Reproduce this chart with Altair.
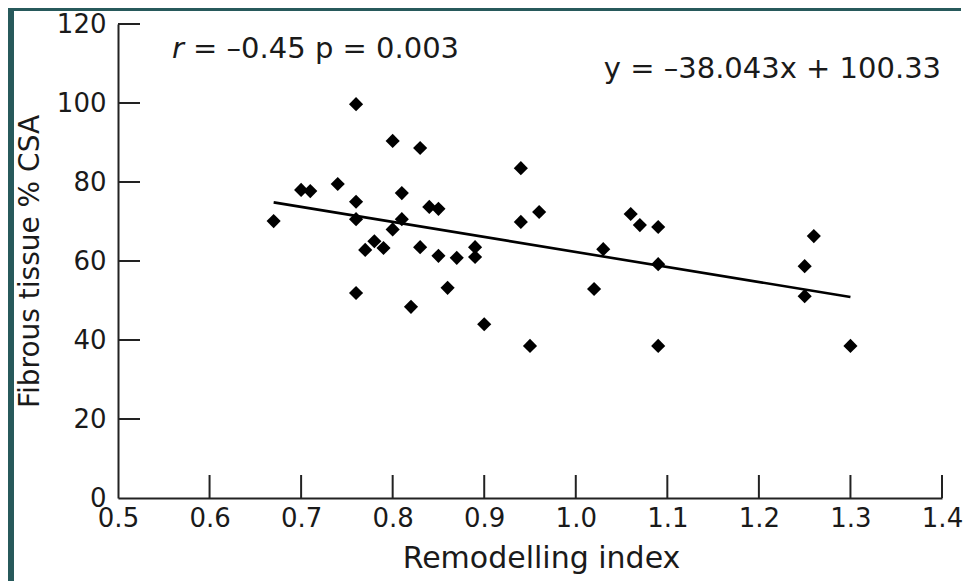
import altair as alt
import pandas as pd

# ---- data ----
remodelling_index = [0.67, 0.70, 0.71, 0.74, 0.76, 0.76, 0.76, 0.76, 0.77, 0.78,
                     0.79, 0.80, 0.80, 0.81, 0.81, 0.82, 0.83, 0.83, 0.84, 0.85,
                     0.85, 0.86, 0.87, 0.89, 0.89, 0.90, 0.94, 0.94, 0.95, 0.96,
                     1.02, 1.03, 1.06, 1.07, 1.09, 1.09, 1.09, 1.25, 1.25, 1.26,
                     1.30]
fibrous_pct = [70.1, 78.0, 77.7, 79.5, 99.7, 75.0, 70.6, 51.9, 62.8, 65.0,
               63.3, 90.4, 68.0, 77.2, 70.6, 48.4, 88.6, 63.5, 73.7, 73.2,
               61.3, 53.2, 60.8, 63.5, 61.0, 44.0, 83.5, 69.9, 38.5, 72.4,
               52.9, 63.0, 71.9, 69.1, 68.6, 59.2, 38.5, 58.7, 51.1, 66.3,
               38.5]

fit_x = [0.67, 1.30]
fit_y = [74.84, 50.87]

x_label_values = [0.5, 0.6, 0.7, 0.8, 0.9, 1.0, 1.1, 1.2, 1.3, 1.4]
x_tick_values = [0.6, 0.7, 0.8, 0.9, 1.0, 1.1, 1.2, 1.3, 1.4]
y_label_values = [0, 20, 40, 60, 80, 100, 120]
y_tick_values = [20, 40, 60, 80, 100, 120]

note_text = ["r", "= \u20130.45 p = 0.003", "y = \u201338.043x + 100.33"]
note_x = [0.559, 0.582, 1.399]
note_y = [111.4, 111.4, 106.3]
note_style = ["italic", "normal", "normal"]
note_align = ["left", "left", "right"]

X_TITLE = "Remodelling index"
Y_TITLE = "Fibrous tissue % CSA"
FONT = "DejaVu Sans"
INK = "#1a1a1a"
TEAL = "#27595b"

xs = alt.Scale(domain=[0.5, 1.4], nice=False, zero=False)
ys = alt.Scale(domain=[0, 120], nice=False, zero=False)

pts = pd.DataFrame({"x": remodelling_index, "y": fibrous_pct})
fit = pd.DataFrame({"x": fit_x, "y": fit_y})
xt = pd.DataFrame({"x": x_tick_values})
yt = pd.DataFrame({"y": y_tick_values})
notes = pd.DataFrame({"x": note_x, "y": note_y, "t": note_text})

W, H = 824, 474

x_axis = alt.Axis(values=x_label_values, format=".1f", ticks=False, tickSize=0,
                  domainColor="#222222", domainWidth=2, grid=False, zindex=1,
                  labelFont=FONT, labelFontSize=26, labelColor=INK, labelPadding=7,
                  labelOverlap=False, labelFlush=False,
                  title=X_TITLE, titleFont=FONT, titleFontSize=30,
                  titleFontWeight="normal", titleColor=INK, titlePadding=12,
                  titleX=423)
y_axis = alt.Axis(values=y_label_values, ticks=False, tickSize=0,
                  domainColor="#222222", domainWidth=2, grid=False, zindex=1,
                  labelFont=FONT, labelFontSize=26, labelColor=INK, labelPadding=12,
                  labelOverlap=False, labelFlush=False,
                  title=Y_TITLE, titleFont=FONT, titleFontSize=28,
                  titleFontWeight="normal", titleColor=INK, titlePadding=12)


def X(field="x"):
    return alt.X(f"{field}:Q", scale=xs, axis=x_axis, title=X_TITLE)


def Y(field="y"):
    return alt.Y(f"{field}:Q", scale=ys, axis=y_axis, title=Y_TITLE)


one = pd.DataFrame({"k": [0]})
left_band = alt.Chart(one).mark_rect(color=TEAL).encode(
    x=alt.value(-112), x2=alt.value(-104), y=alt.value(-20), y2=alt.value(H + 100)
)
top_band = alt.Chart(one).mark_rect(color=TEAL).encode(
    x=alt.value(-112), x2=alt.value(843), y=alt.value(-20), y2=alt.value(-13)
)

scatter = alt.Chart(pts).mark_point(shape="diamond", filled=True, size=200,
                                    color="#000000", opacity=1).encode(x=X(), y=Y())

line = alt.Chart(fit).mark_line(color="#000000", strokeWidth=2.6).encode(x=X(), y=Y())

xticks = alt.Chart(xt).mark_rule(color="#222222", strokeWidth=2).encode(
    x=X(), y=alt.value(H), y2=alt.value(H - 23),
)
yticks = alt.Chart(yt).mark_rule(color="#222222", strokeWidth=2).encode(
    y=Y(), x=alt.value(0), x2=alt.value(22),
)

text_layers = []
for i in range(len(note_text)):
    d = notes.iloc[[i]]
    text_layers.append(
        alt.Chart(d).mark_text(font=FONT, fontSize=29, color=INK,
                               fontStyle=note_style[i], align=note_align[i],
                               baseline="alphabetic").encode(
            x=X(), y=Y(), text="t:N",
        )
    )

chart = alt.layer(left_band, top_band, line, scatter, xticks, yticks, *text_layers).properties(
    width=W, height=H,
    padding={"left": 110, "top": 16, "right": 29, "bottom": 83},
    autosize=alt.AutoSizeParams(type="none"),
).configure(background="white").configure_view(stroke=None)

chart.save("out.html", embed_options={"renderer": "svg", "actions": False})
